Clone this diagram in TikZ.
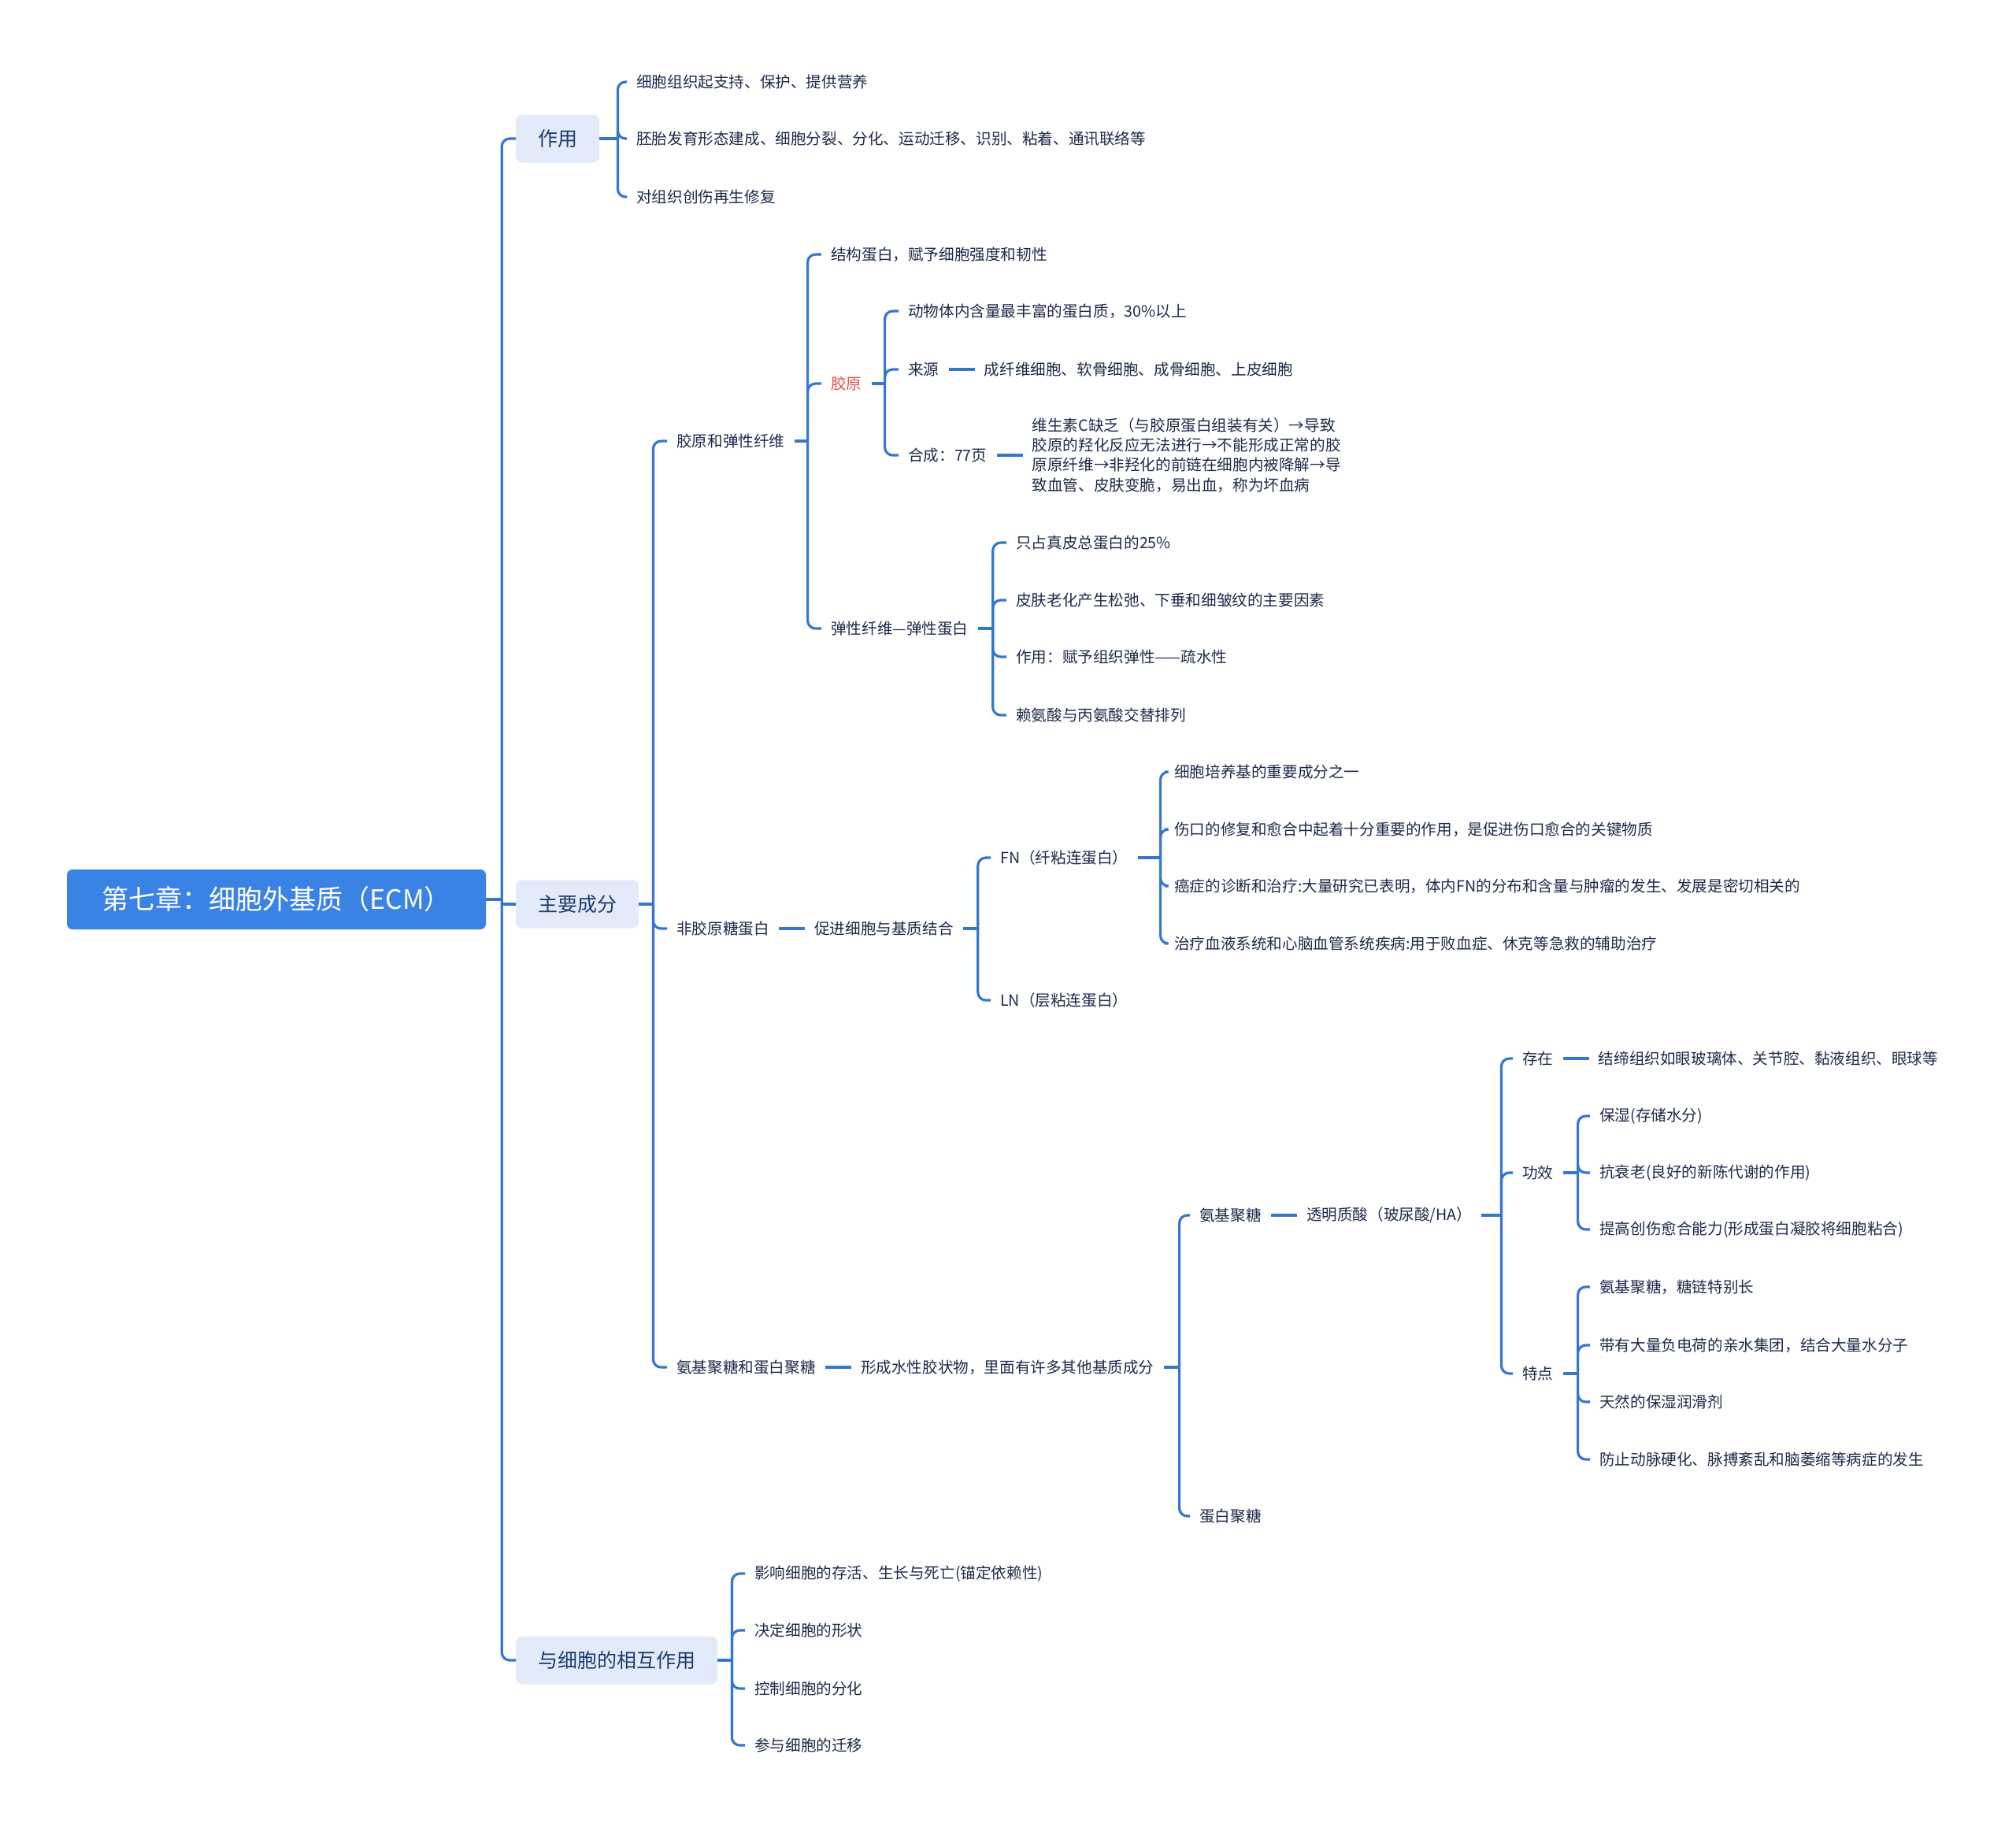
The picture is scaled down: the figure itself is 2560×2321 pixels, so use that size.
\documentclass[tikz,border=0pt]{standalone}
\usepackage{fontspec}
\setmainfont{Noto Sans CJK SC}
\usetikzlibrary{positioning}
\definecolor{linkblue}{HTML}{3477CC}
\definecolor{rootblue}{HTML}{3A82E4}
\definecolor{topicfill}{HTML}{E3EBFA}
\definecolor{topictext}{HTML}{1D3A6E}
\definecolor{leaftext}{HTML}{1E2A4A}
\definecolor{redtext}{HTML}{D9534F}
\newcommand\leafsize{\fontsize{19.6pt}{25.3pt}\selectfont}
\tikzset{
  rootbox/.style={rectangle, rounded corners=7pt, fill=rootblue, text=white,
                  font=\fontsize{34pt}{40pt}\selectfont, minimum width=532pt, minimum height=76pt},
  topic/.style={rectangle, rounded corners=8pt, fill=topicfill, text=topictext, anchor=west,
                font=\fontsize{25pt}{30pt}\selectfont, inner xsep=28pt, minimum height=61pt},
  leaf/.style={anchor=west, text=leaftext, font=\leafsize, inner xsep=12pt, inner ysep=3pt},
  link/.style={draw=linkblue, line width=3.2pt},
  branch/.style={link, rounded corners=10pt},
}

\begin{document}
\begin{tikzpicture}[x=1pt, y=-1pt]
  \useasboundingbox[fill=white] (0,0) rectangle (2560,2321);
  \node[rootbox] (root) at (351,1142) {第七章：细胞外基质（ECM）};
  \node[topic] (zy) at (655,176) {作用};
  \node[topic] (zycf) at (655,1148) {主要成分};
  \node[topic] (xhzy) at (655,2108) {与细胞的相互作用};

  \node[leaf] (zy1) at (796,104) {细胞组织起支持、保护、提供营养};
  \node[leaf] (zy2) at (796,176) {胚胎发育形态建成、细胞分裂、分化、运动迁移、识别、粘着、通讯联络等};
  \node[leaf] (zy3) at (796,250) {对组织创伤再生修复};

  \node[leaf] (jy) at (847,560) {胶原和弹性纤维};
  \node[leaf] (fjy) at (847,1179) {非胶原糖蛋白};
  \node[leaf] (ajt) at (847,1736) {氨基聚糖和蛋白聚糖};

  \node[leaf] (jy1) at (1043,323) {结构蛋白，赋予细胞强度和韧性};
  \node[leaf, text=redtext] (jy2) at (1043,487) {胶原};
  \node[leaf] (jy3) at (1043,798) {弹性纤维—弹性蛋白};

  \node[leaf] (jy21) at (1141,395) {动物体内含量最丰富的蛋白质，30\%以上};
  \node[leaf] (jy22) at (1141,469) {来源};
  \node[leaf, right=33pt of jy22] (jy22c) {成纤维细胞、软骨细胞、成骨细胞、上皮细胞};
  \node[leaf] (jy23) at (1141,578) {合成：77页};
  \node[leaf, right=33pt of jy23, align=left] (jy23c) {维生素C缺乏（与胶原蛋白组装有关）→导致\\胶原的羟化反应无法进行→不能形成正常的胶\\原原纤维→非羟化的前链在细胞内被降解→导\\致血管、皮肤变脆，易出血，称为坏血病};

  \node[leaf] (tx1) at (1278,689) {只占真皮总蛋白的25\%};
  \node[leaf] (tx2) at (1278,762) {皮肤老化产生松弛、下垂和细皱纹的主要因素};
  \node[leaf] (tx3) at (1278,834) {作用：赋予组织弹性——疏水性};
  \node[leaf] (tx4) at (1278,908) {赖氨酸与丙氨酸交替排列};

  \node[leaf, right=33pt of fjy] (cj) {促进细胞与基质结合};
  \node[leaf] (fn) at (1258,1089) {FN（纤粘连蛋白）};
  \node[leaf] (ln) at (1258,1270) {LN（层粘连蛋白）};
  \node[leaf] (fn1) at (1479,980) {细胞培养基的重要成分之一};
  \node[leaf] (fn2) at (1479,1053) {伤口的修复和愈合中起着十分重要的作用，是促进伤口愈合的关键物质};
  \node[leaf] (fn3) at (1479,1125) {癌症的诊断和治疗:大量研究已表明，体内FN的分布和含量与肿瘤的发生、发展是密切相关的};
  \node[leaf] (fn4) at (1479,1198) {治疗血液系统和心脑血管系统疾病:用于败血症、休克等急救的辅助治疗};

  \node[leaf, right=33pt of ajt] (xc) {形成水性胶状物，里面有许多其他基质成分};
  \node[leaf] (ajt1) at (1511,1543) {氨基聚糖};
  \node[leaf] (dbt) at (1511,1925) {蛋白聚糖};
  \node[leaf, right=33pt of ajt1] (tm) {透明质酸（玻尿酸/HA）};
  \node[leaf] (cz) at (1921,1344) {存在};
  \node[leaf, right=33pt of cz] (czc) {结缔组织如眼玻璃体、关节腔、黏液组织、眼球等};
  \node[leaf] (gx) at (1921,1489) {功效};
  \node[leaf] (td) at (1921,1744) {特点};
  \node[leaf] (gx1) at (2019,1417) {保湿(存储水分)};
  \node[leaf] (gx2) at (2019,1489) {抗衰老(良好的新陈代谢的作用)};
  \node[leaf] (gx3) at (2019,1561) {提高创伤愈合能力(形成蛋白凝胶将细胞粘合)};
  \node[leaf] (td1) at (2019,1634) {氨基聚糖，糖链特别长};
  \node[leaf] (td2) at (2019,1708) {带有大量负电荷的亲水集团，结合大量水分子};
  \node[leaf] (td3) at (2019,1780) {天然的保湿润滑剂};
  \node[leaf] (td4) at (2019,1853) {防止动脉硬化、脉搏紊乱和脑萎缩等病症的发生};

  \node[leaf] (xh1) at (946,1998) {影响细胞的存活、生长与死亡(锚定依赖性)};
  \node[leaf] (xh2) at (946,2070) {决定细胞的形状};
  \node[leaf] (xh3) at (946,2144) {控制细胞的分化};
  \node[leaf] (xh4) at (946,2216) {参与细胞的迁移};

  \draw[link] (root.east) -- ++(20,0) coordinate (root-j);
  \foreach \c in {zy,xhzy} \draw[branch] (root-j) |- (\c.west);
  \draw[link] (root-j |- zycf.west) -- (zycf.west);

  \draw[link] (zy.east) -- ++(23,0) coordinate (zy-j);
  \foreach \c in {zy1,zy2,zy3} \draw[branch] (zy-j) |- (\c.west);
  \draw[link] (zycf.east) -- ++(18,0) coordinate (zycf-j);
  \foreach \c in {jy,fjy,ajt} \draw[branch] (zycf-j) |- (\c.west);
  \draw[link] (xhzy.east) -- ++(18,0) coordinate (xhzy-j);
  \foreach \c in {xh1,xh2,xh3,xh4} \draw[branch] (xhzy-j) |- (\c.west);

  \draw[link] (jy.east) -- ++(17,0) coordinate (jy-j);
  \foreach \c in {jy1,jy2,jy3} \draw[branch] (jy-j) |- (\c.west);
  \draw[link] (jy2.east) -- ++(17,0) coordinate (jy2-j);
  \foreach \c in {jy21,jy22,jy23} \draw[branch] (jy2-j) |- (\c.west);
  \draw[link] (jy22) -- (jy22c);
  \draw[link] (jy23.east) -- (jy23c.west);
  \draw[link] (jy3.east) -- ++(19,0) coordinate (jy3-j);
  \foreach \c in {tx1,tx2,tx3,tx4} \draw[branch] (jy3-j) |- (\c.west);

  \draw[link] (fjy) -- (cj);
  \draw[link] (cj.east) -- ++(19,0) coordinate (cj-j);
  \foreach \c in {fn,ln} \draw[branch] (cj-j) |- (\c.west);
  \draw[link] (fn.east) -- ++(29,0) coordinate (fn-j);
  \foreach \c in {fn1,fn2,fn3,fn4} \draw[branch] (fn-j) |- (\c.west);

  \draw[link] (ajt) -- (xc);
  \draw[link] (xc.east) -- ++(20,0) coordinate (xc-j);
  \foreach \c in {ajt1,dbt} \draw[branch] (xc-j) |- (\c.west);
  \draw[link] (ajt1) -- (tm);
  \draw[link] (tm.east) -- ++(25,0) coordinate (tm-j);
  \foreach \c in {cz,gx,td} \draw[branch] (tm-j) |- (\c.west);
  \draw[link] (cz) -- (czc);
  \draw[link] (gx.east) -- ++(19,0) coordinate (gx-j);
  \foreach \c in {gx1,gx2,gx3} \draw[branch] (gx-j) |- (\c.west);
  \draw[link] (td.east) -- ++(19,0) coordinate (td-j);
  \foreach \c in {td1,td2,td3,td4} \draw[branch] (td-j) |- (\c.west);
\end{tikzpicture}
\end{document}
